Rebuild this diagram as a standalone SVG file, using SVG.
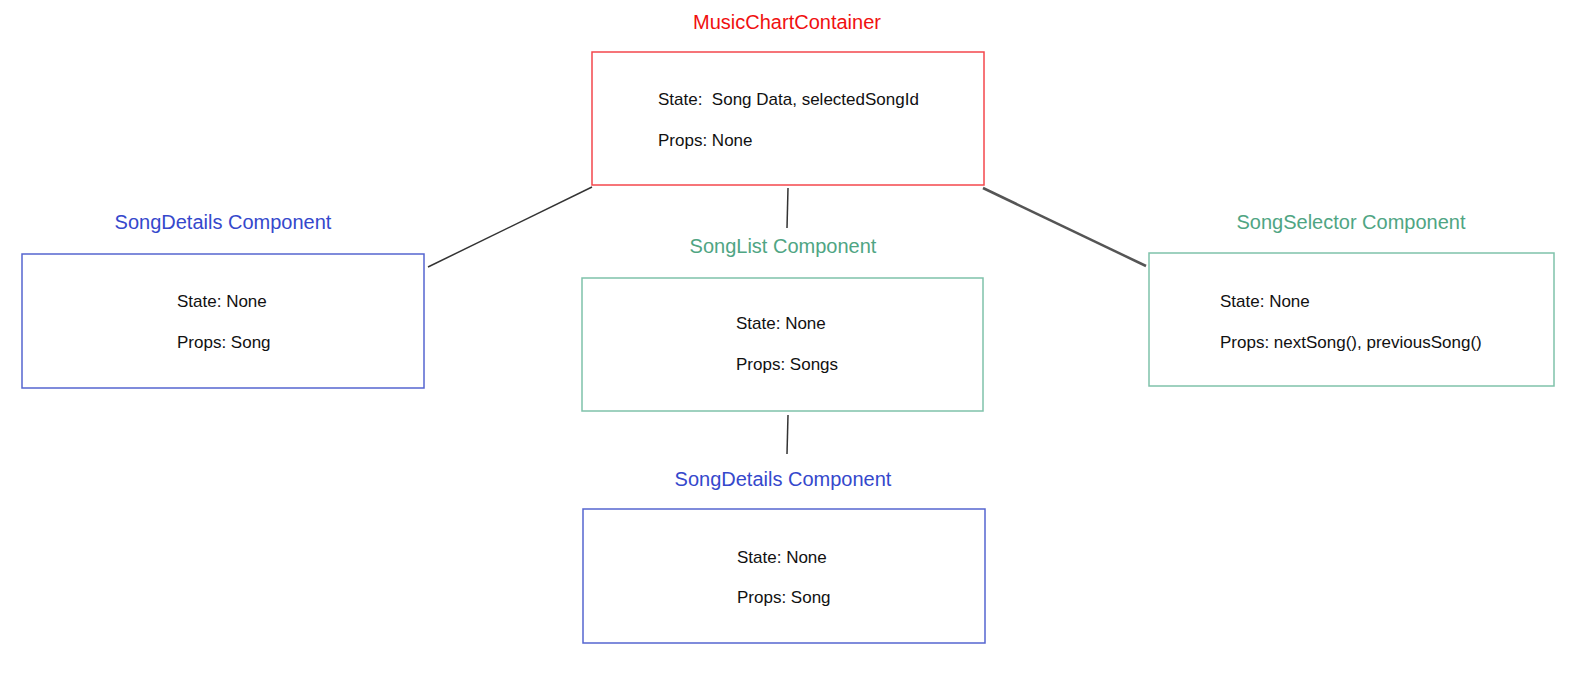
<svg xmlns="http://www.w3.org/2000/svg" width="1574" height="677" viewBox="0 0 1574 677">
<style>
text{font-family:"Liberation Sans",Arial,sans-serif;white-space:pre}
.title{font-size:20px;text-anchor:middle}
.body{font-size:17px;fill:#111}
.box{fill:#fff;stroke-width:1.5}
.red .box{stroke:#f4474c}
.red .title{fill:#f01010}
.blue .box{stroke:#5565d0}
.blue .title{fill:#3548cc}
.green .box{stroke:#7fc2aa}
.green .title{fill:#4fa583}
.conn line{stroke:#333;stroke-width:1.5}
</style>
<rect width="1574" height="677" fill="#fff"/>
<g id="connectors" class="conn">
<line x1="592" y1="187" x2="428" y2="267"/>
<line x1="788" y1="188" x2="787" y2="228"/>
<line x1="983" y1="188" x2="1146" y2="266" style="stroke:#555;stroke-width:2.5"/>
<line x1="788" y1="415" x2="787" y2="454"/>
</g>
<g id="musicChartContainer" class="red">
<text class="title" x="787" y="29">MusicChartContainer</text>
<rect class="box" x="592" y="52" width="392" height="133"/>
<text class="body" x="658" y="105" xml:space="preserve">State:  Song Data, selectedSongId</text>
<text class="body" x="658" y="146">Props: None</text>
</g>
<g id="songDetailsLeft" class="blue">
<text class="title" x="223" y="229">SongDetails Component</text>
<rect class="box" x="22" y="254" width="402" height="134"/>
<text class="body" x="177" y="307">State: None</text>
<text class="body" x="177" y="348">Props: Song</text>
</g>
<g id="songList" class="green">
<text class="title" x="783" y="253">SongList Component</text>
<rect class="box" x="582" y="278" width="401" height="133"/>
<text class="body" x="736" y="329">State: None</text>
<text class="body" x="736" y="370">Props: Songs</text>
</g>
<g id="songSelector" class="green">
<text class="title" x="1351" y="229">SongSelector Component</text>
<rect class="box" x="1149" y="253" width="405" height="133"/>
<text class="body" x="1220" y="307">State: None</text>
<text class="body" x="1220" y="348">Props: nextSong(), previousSong()</text>
</g>
<g id="songDetailsBottom" class="blue">
<text class="title" x="783" y="486">SongDetails Component</text>
<rect class="box" x="583" y="509" width="402" height="134"/>
<text class="body" x="737" y="563">State: None</text>
<text class="body" x="737" y="603">Props: Song</text>
</g>
</svg>
